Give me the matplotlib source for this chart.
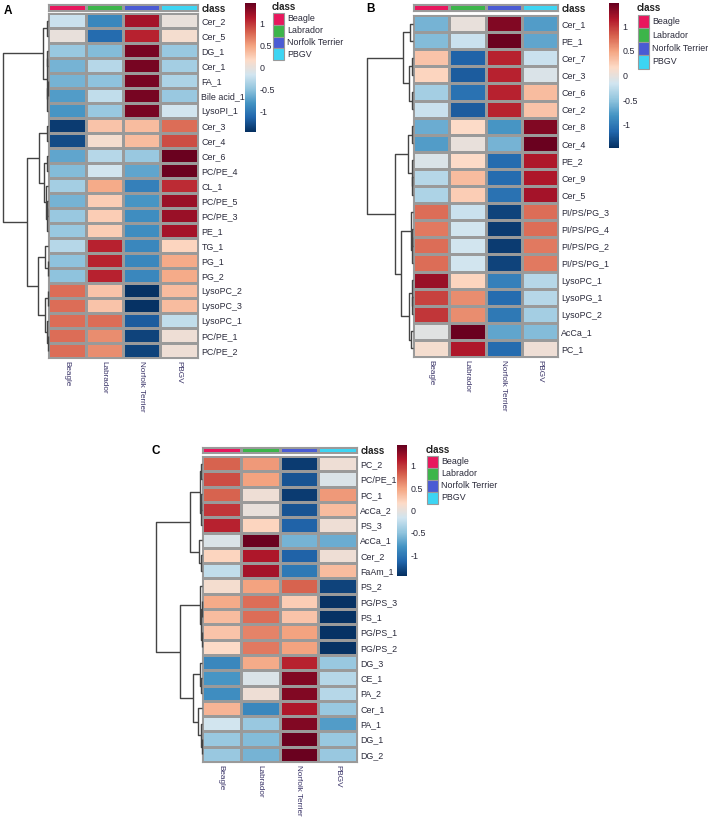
import numpy as np
import matplotlib
matplotlib.use('Agg')
import matplotlib.pyplot as plt
from matplotlib.colors import LinearSegmentedColormap, ListedColormap
from matplotlib.patches import Rectangle

plt.rcParams['font.family'] = ['Liberation Sans', 'DejaVu Sans']
plt.rcParams['axes.unicode_minus'] = False

# Breeds (columns) and their annotation colours.
breeds = ['Beagle', 'Labrador', 'Norfolk Terrier', 'PBGV']
breed_colors = ['#E8175D', '#3CB54A', '#4A5BD4', '#3DD5F3']

# Panel A
rows_a = ['Cer_2', 'Cer_5', 'DG_1', 'Cer_1', 'FA_1', 'Bile acid_1', 'LysoPI_1', 'Cer_3', 'Cer_4',
          'Cer_6', 'PC/PE_4', 'CL_1', 'PC/PE_5', 'PC/PE_3', 'PE_1', 'TG_1', 'PG_1', 'PG_2',
          'LysoPC_2', 'LysoPC_3', 'LysoPC_1', 'PC/PE_1', 'PC/PE_2']
vals_a = [[-0.2, -0.9, 1.2, 0.0],
          [0.0, -1.1, 1.1, 0.1],
          [-0.45, -0.55, 1.4, -0.45],
          [-0.6, -0.3, 1.4, -0.4],
          [-0.6, -0.5, 1.4, -0.35],
          [-0.75, -0.25, 1.4, -0.45],
          [-0.8, -0.45, 1.4, -0.15],
          [-1.4, 0.3, 0.35, 0.75],
          [-1.3, 0.1, 0.35, 0.9],
          [-0.7, -0.3, -0.45, 1.45],
          [-0.55, -0.15, -0.7, 1.45],
          [-0.4, 0.45, -0.95, 1.05],
          [-0.6, 0.25, -0.8, 1.25],
          [-0.45, 0.25, -0.85, 1.25],
          [-0.45, 0.25, -0.85, 1.2],
          [-0.3, 1.1, -0.9, 0.2],
          [-0.5, 1.1, -0.9, 0.45],
          [-0.5, 1.1, -0.9, 0.45],
          [0.75, 0.3, -1.45, 0.35],
          [0.75, 0.3, -1.45, 0.35],
          [0.75, 0.75, -1.2, -0.25],
          [0.75, 0.6, -1.35, 0.05],
          [0.75, 0.6, -1.35, 0.05]]
# merges: (left node, right node, height); leaves are 0..n-1, merge k becomes node n+k
tree_a = [(0, 1, 1.2), (2, 3, 0.6), (4, 5, 0.5), (25, 6, 0.9), (24, 26, 1.3), (23, 27, 5),
          (7, 8, 1.5), (9, 10, 1.0), (12, 13, 0.6), (31, 14, 0.9), (11, 32, 1.6), (30, 33, 4),
          (29, 34, 9),
          (16, 17, 0.5), (15, 36, 3), (18, 19, 0.4), (21, 22, 0.3), (20, 39, 1.2), (38, 40, 3),
          (37, 41, 10), (35, 42, 21), (28, 43, 45)]

# Panel B
rows_b = ['Cer_1', 'PE_1', 'Cer_7', 'Cer_3', 'Cer_6', 'Cer_2', 'Cer_8', 'Cer_4', 'PE_2', 'Cer_9',
          'Cer_5', 'PI/PS/PG_3', 'PI/PS/PG_4', 'PI/PS/PG_2', 'PI/PS/PG_1', 'LysoPC_1', 'LysoPG_1',
          'LysoPC_2', 'AcCa_1', 'PC_1']
vals_b = [[-0.6, 0.0, 1.35, -0.75],
          [-0.55, -0.2, 1.45, -0.7],
          [0.3, -1.15, 1.1, -0.2],
          [0.2, -1.2, 1.1, -0.1],
          [-0.4, -1.05, 1.1, 0.35],
          [-0.2, -1.2, 1.1, 0.3],
          [-0.65, 0.15, -0.8, 1.35],
          [-0.75, 0.0, -0.6, 1.45],
          [-0.1, 0.15, -1.1, 1.15],
          [-0.3, 0.35, -1.1, 1.15],
          [-0.35, 0.25, -1.05, 1.2],
          [0.75, -0.2, -1.35, 0.75],
          [0.7, -0.15, -1.4, 0.75],
          [0.75, -0.15, -1.4, 0.7],
          [0.75, -0.15, -1.35, 0.7],
          [1.25, 0.2, -0.95, -0.3],
          [0.95, 0.6, -1.1, -0.3],
          [1.0, 0.6, -1.0, -0.4],
          [-0.05, 1.45, -0.7, -0.55],
          [0.1, 1.15, -1.1, 0.05]]
tree_b = [(0, 1, 3), (2, 3, 1.5), (4, 5, 1.5), (21, 22, 4), (20, 23, 10),
          (6, 7, 1.5), (9, 10, 0.8), (8, 26, 1.5), (25, 27, 5),
          (12, 13, 0.8), (29, 14, 1.2), (11, 30, 2),
          (16, 17, 0.8), (15, 32, 1.5), (18, 19, 2), (33, 34, 4), (31, 35, 12),
          (28, 36, 18), (24, 37, 46)]

# Panel C
rows_c = ['PC_2', 'PC/PE_1', 'PC_1', 'AcCa_2', 'PS_3', 'AcCa_1', 'Cer_2', 'FaAm_1', 'PS_2',
          'PG/PS_3', 'PS_1', 'PG/PS_1', 'PG/PS_2', 'DG_3', 'CE_1', 'PA_2', 'Cer_1', 'PA_1',
          'DG_1', 'DG_2']
vals_c = [[0.8, 0.55, -1.4, 0.05],
          [0.9, 0.5, -1.25, -0.1],
          [0.8, 0.05, -1.4, 0.55],
          [1.0, 0.0, -1.25, 0.35],
          [1.1, 0.2, -1.15, 0.05],
          [-0.1, 1.45, -0.6, -0.65],
          [0.2, 1.15, -1.15, 0.05],
          [-0.25, 1.2, -1.0, 0.35],
          [0.1, 0.5, 0.8, -1.35],
          [0.45, 0.75, 0.25, -1.45],
          [0.35, 0.75, 0.3, -1.45],
          [0.3, 0.65, 0.5, -1.45],
          [0.15, 0.7, 0.5, -1.45],
          [-0.9, 0.45, 1.1, -0.45],
          [-0.8, -0.1, 1.35, -0.3],
          [-0.85, 0.05, 1.35, -0.3],
          [0.4, -0.9, 1.15, -0.45],
          [-0.15, -0.45, 1.35, -0.75],
          [-0.45, -0.55, 1.45, -0.45],
          [-0.45, -0.6, 1.45, -0.45]]
tree_c = [(0, 1, 0.8), (2, 3, 0.7), (21, 4, 1.2), (20, 22, 2),
          (6, 7, 1.2), (5, 24, 3), (23, 25, 12),
          (9, 10, 0.5), (11, 12, 0.4), (27, 28, 1), (8, 29, 2),
          (14, 15, 0.8), (13, 31, 2), (18, 19, 0.3), (17, 33, 1.5), (16, 34, 4), (32, 35, 9),
          (30, 36, 22), (26, 37, 46)]

# RColorBrewer RdBu (10), reversed, as used by the heatmap
rdbu10 = ['#053061', '#2166AC', '#4393C3', '#92C5DE', '#D1E5F0',
          '#FDDBC7', '#F4A582', '#D6604D', '#B2182B', '#67001F']
cmap = LinearSegmentedColormap.from_list('rdbu10', rdbu10, N=256)
vmin, vmax = -1.47, 1.47

W, H = 708, 819
fig = plt.figure(figsize=(W / 100, H / 100), dpi=100)
FS = 6.4
FS_COL = 5.9
GRID = '#9a9a9a'
TXT = '#2a2a3a'


def px_axes(x0, y0, x1, y1):
    return fig.add_axes([x0 / W, 1 - y1 / H, (x1 - x0) / W, (y1 - y0) / H])


def draw_dendrogram(ax, tree, n, hmax):
    pos = {i: i + 0.5 for i in range(n)}
    hgt = {i: 0.0 for i in range(n)}
    for k, (a, b, h) in enumerate(tree):
        ax.plot([hgt[a], h, h, hgt[b]], [pos[a], pos[a], pos[b], pos[b]],
                color='#444444', lw=1.0, clip_on=False, solid_capstyle='butt')
        pos[n + k] = (pos[a] + pos[b]) / 2
        hgt[n + k] = h
    ax.set_xlim(hmax, 0)
    ax.set_ylim(n, 0)
    ax.axis('off')


def draw_panel(letter, letter_xy, rows, vals, tree, hx0, hx1, hy0, hy1, dx0,
               annot_y, cbar_box, leg_x, leg_y, leg_step):
    n = len(rows)
    data = np.array(vals)

    # heatmap
    ax = px_axes(hx0, hy0, hx1, hy1)
    mesh = ax.pcolormesh(np.arange(5), np.arange(n + 1), data, cmap=cmap, vmin=vmin, vmax=vmax,
                         edgecolors=GRID, linewidth=0.8)
    ax.set_xlim(0, 4)
    ax.set_ylim(n, 0)
    ax.yaxis.tick_right()
    ax.set_yticks(np.arange(n) + 0.5)
    ax.set_yticklabels(rows, fontsize=FS, color=TXT)
    ax.set_xticks(np.arange(4) + 0.5)
    ax.set_xticklabels(breeds, fontsize=FS_COL, color='#3a3468', rotation=270, va='top', ha='center')
    ax.tick_params(axis='y', length=0, pad=2.5)
    ax.tick_params(axis='x', length=0, pad=2)
    for s in ax.spines.values():
        s.set_color(GRID)
        s.set_linewidth(0.8)

    # class annotation bar
    axa = px_axes(hx0, annot_y[0], hx1, annot_y[1])
    axa.pcolormesh(np.arange(5), [0, 1], np.arange(4).reshape(1, 4), cmap=ListedColormap(breed_colors),
                   vmin=-0.5, vmax=3.5, edgecolors=GRID, linewidth=0.8)
    axa.set_xlim(0, 4)
    axa.set_ylim(1, 0)
    axa.set_xticks([])
    axa.yaxis.tick_right()
    axa.set_yticks([0.5])
    axa.set_yticklabels(['class'], fontsize=FS + 0.6, fontweight='bold', color='#222222')
    axa.tick_params(length=0, pad=2.5)
    for s in axa.spines.values():
        s.set_color(GRID)
        s.set_linewidth(0.8)

    # row dendrogram
    axd = px_axes(dx0, hy0, hx0, hy1)
    draw_dendrogram(axd, tree, n, tree[-1][2])

    # colour key
    cax = px_axes(*cbar_box)
    cb = fig.colorbar(mesh, cax=cax)
    cb.outline.set_visible(False)
    cb.set_ticks([-1, -0.5, 0, 0.5, 1])
    cb.set_ticklabels(['-1', '-0.5', '0', '0.5', '1'])
    cax.tick_params(length=0, labelsize=FS, pad=2.5, labelcolor=TXT)

    # class legend
    over.text(leg_x, leg_y, 'class', fontsize=FS + 0.6, fontweight='bold', color='#222222',
              va='center', ha='left')
    for i, (b, c) in enumerate(zip(breeds, breed_colors)):
        y = leg_y + leg_step * (i + 1)
        over.add_patch(Rectangle((leg_x + 1, y - leg_step / 2), 11, leg_step, facecolor=c,
                                 edgecolor=GRID, lw=0.8))
        over.text(leg_x + 15, y, b, fontsize=FS, color=TXT, va='center', ha='left')

    over.text(letter_xy[0], letter_xy[1], letter, fontsize=8.5, fontweight='bold', va='center')


# overlay axes in pixel coordinates for legends and panel letters
over = fig.add_axes([0, 0, 1, 1])
over.set_xlim(0, W)
over.set_ylim(H, 0)
over.axis('off')

draw_panel('A', (4, 11), rows_a, vals_a, tree_a, 48, 198, 13, 358, 3,
           (4, 11), (245, 3, 256, 132), 272, 7, 11.8)
draw_panel('B', (366, 9), rows_b, vals_b, tree_b, 413, 558, 15, 357, 367,
           (4, 11), (609, 3, 619, 148), 637, 8, 13.5)
draw_panel('C', (151, 451), rows_c, vals_c, tree_c, 202, 357, 456, 762, 156,
           (447, 453), (397, 445, 407, 576), 426, 450, 12)

fig.savefig('out.png', dpi=100)
